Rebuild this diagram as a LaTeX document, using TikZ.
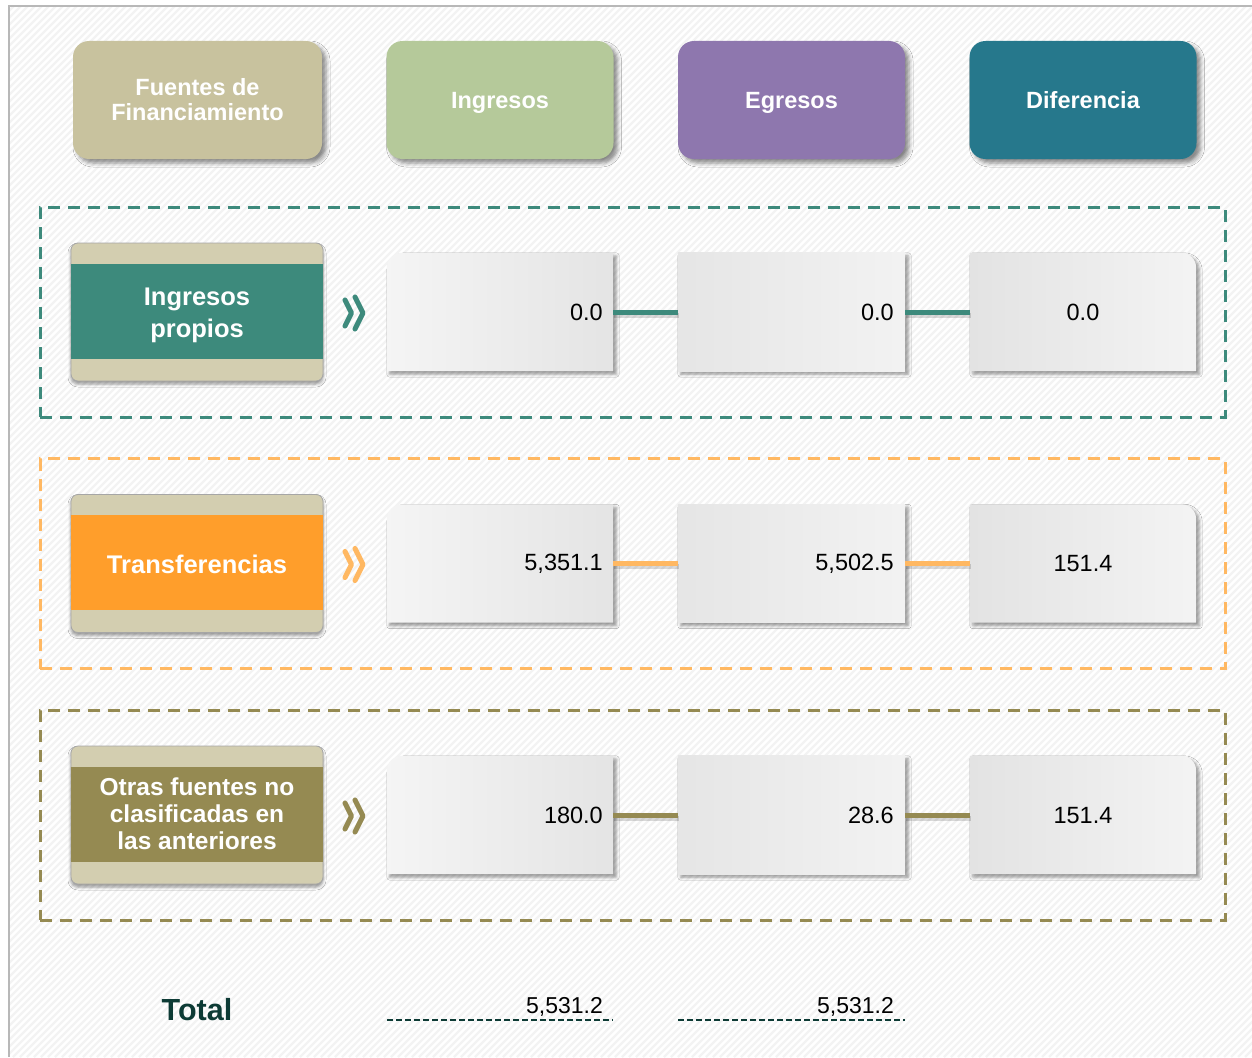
\documentclass[tikz,border=0pt]{standalone}
\usepackage{fontspec}
\setmainfont{Liberation Sans}
\usetikzlibrary{shadows.blur}
\definecolor{hdtan}{HTML}{C8C29E}
\definecolor{hdgreen}{HTML}{B5C99A}
\definecolor{hdpurple}{HTML}{8E77AE}
\definecolor{hdteal}{HTML}{26788C}
\definecolor{rteal}{HTML}{3D8A7C}
\definecolor{rorange}{HTML}{FF9E2B}
\definecolor{rorangel}{HTML}{FFB862}
\definecolor{rolive}{HTML}{958A52}
\definecolor{cardbg}{HTML}{D3CEB0}
\definecolor{stripe}{HTML}{F3F3F3}
\definecolor{totcol}{HTML}{0D3B35}
\tikzset{
  header/.style={rounded corners=16pt, minimum width=227pt, minimum height=118pt,
    text=white, font=\fontsize{23.5}{25}\selectfont\bfseries, align=center,
    blur shadow={shadow xshift=4pt, shadow yshift=-4pt, shadow blur radius=4pt, shadow opacity=45}},
  group/.style={dash pattern=on 12pt off 8pt, line width=3pt, minimum width=1185pt, minimum height=210pt},
  card/.style={rounded corners=7pt, fill=cardbg, draw=black!35, line width=0.8pt,
    minimum width=252pt, minimum height=138pt,
    blur shadow={shadow xshift=0pt, shadow yshift=-3pt, shadow blur radius=3pt, shadow opacity=40}},
  band/.style={minimum width=252pt, minimum height=95pt, inner sep=0pt},
  bandtext/.style={text=white, align=center, inner sep=0pt},
  holder/.style={minimum width=226pt, minimum height=118pt, inner sep=0pt},
  boxshadow/.style={blur shadow={shadow xshift=3pt, shadow yshift=-3pt, shadow blur radius=3pt, shadow opacity=40}},
  value/.style={font=\fontsize{23.5}{28}\selectfont, inner sep=0pt},
  conn/.style={line width=5pt, preaction={draw=black, opacity=0.15, line width=5pt, transform canvas={shift={(1pt,-3pt)}}}},
  chev/.style={line width=5pt, line cap=round, line join=round},
  totline/.style={draw=totcol, line width=2.8pt, dash pattern=on 6pt off 3pt}
}
\begin{document}
\begin{tikzpicture}[x=1pt,y=-1pt]
\useasboundingbox (0,0) rectangle (1252,1057);
\fill[white] (0,0) rectangle (1252,1057);
\begin{scope}
\clip (9,6) rectangle (1252,1057);
\foreach \i in {-1100,-1093,...,1260} \draw[stripe, line width=2.2pt] (\i,1057) -- (\i+1051,6);
\end{scope}
\draw[black!28, line width=2pt] (9,1057) -- (9,6) -- (1252,6);

% headers
\node[header, fill=hdtan, minimum width=249pt] (h1) at (197.5,100) {Fuentes de\\Financiamiento};
\node[header, fill=hdgreen, text depth=0pt] (h2) at (500,100) {Ingresos};
\node[header, fill=hdpurple, text depth=0pt] (h3) at (791.5,100) {Egresos};
\node[header, fill=hdteal] (h4) at (1083,100) {Diferencia};

% rows
\foreach \yc/\gc/\bc/\cc/\lc/\txt/\fs/\bs/\to/\va/\vb/\vc/\r in {
  312/rteal/rteal/rteal/rteal/{Ingresos\\propios}/25.5/32/3.5/{0.0}/{0.0}/{0.0}/1,
  563.5/rorangel/rorange/rorangel/rorangel/{Transferencias}/25.5/32/1/{5,351.1}/{5,502.5}/{151.4}/2,
  815/rolive/rolive/rolive/rolive/{Otras fuentes no\\clasificadas en\\las anteriores}/24.5/27/-1/{180.0}/{28.6}/{151.4}/3}{
  \node[group, draw=\gc] (g\r) at (632.5,\yc) {};
  \node[card] (c\r) at (197,\yc) {};
  \node[band, fill=\bc] (n\r) at (197,\yc-1) {};
  \node[bandtext, font=\fontsize{\fs}{\bs}\selectfont\bfseries] (t\r) at (197,\yc+\to) {\txt};
  \coordinate (k\r) at (353,\yc+1);
  \draw[chev, draw=\cc] ([shift={(-8,-13)}]k\r) -- ([shift={(-1.5,0)}]k\r) -- ([shift={(-8,13)}]k\r);
  \draw[chev, draw=\cc] ([shift={(2,-16)}]k\r) -- ([shift={(10,0)}]k\r) -- ([shift={(2,16)}]k\r);
  \node[holder] (a\r) at (500,\yc) {};
  \node[holder, minimum width=227pt] (b\r) at (791.5,\yc) {};
  \node[holder] (d\r) at (1083,\yc) {};
  \shade[boxshadow, left color=black!4, right color=black!10.5]
    (a\r.west) [rounded corners=15pt] -- (a\r.north west) -- (a\r.north) [sharp corners] -- (a\r.north east) -- (a\r.south east) -- (a\r.south west) -- cycle;
  \shade[boxshadow, left color=black!10, right color=black!5]
    (b\r.north west) rectangle (b\r.south east);
  \shade[boxshadow, left color=black!11, right color=black!4.5]
    (d\r.north) [rounded corners=15pt] -- (d\r.north east) -- (d\r.east) [sharp corners] -- (d\r.south east) -- (d\r.south west) -- (d\r.north west) -- cycle;
  \draw[conn, draw=\lc] (a\r.east) -- (b\r.west);
  \draw[conn, draw=\lc] (b\r.east) -- (d\r.west);
  \node[value, anchor=east] (va\r) at (603,\yc+0.5) {\va};
  \node[value, anchor=east] (vb\r) at (894,\yc+0.5) {\vb};
  \node[value] (vc\r) at (1083,\yc+0.5) {\vc};
}

% totals
\node[font=\fontsize{30.5}{34}\selectfont\bfseries, text=totcol, inner sep=0pt] (tot) at (197,1010) {Total};
\coordinate (u1a) at (387,1020); \coordinate (u1b) at (613,1020);
\coordinate (u2a) at (678,1020); \coordinate (u2b) at (905,1020);
\draw[totline] (u1a) -- (u1b);
\draw[totline] (u2a) -- (u2b);
\node[value, font=\fontsize{23}{26}\selectfont, anchor=base east] (ti) at (603,1013) {5,531.2};
\node[value, font=\fontsize{23}{26}\selectfont, anchor=base east] (te) at (894,1013) {5,531.2};
\end{tikzpicture}
\end{document}
